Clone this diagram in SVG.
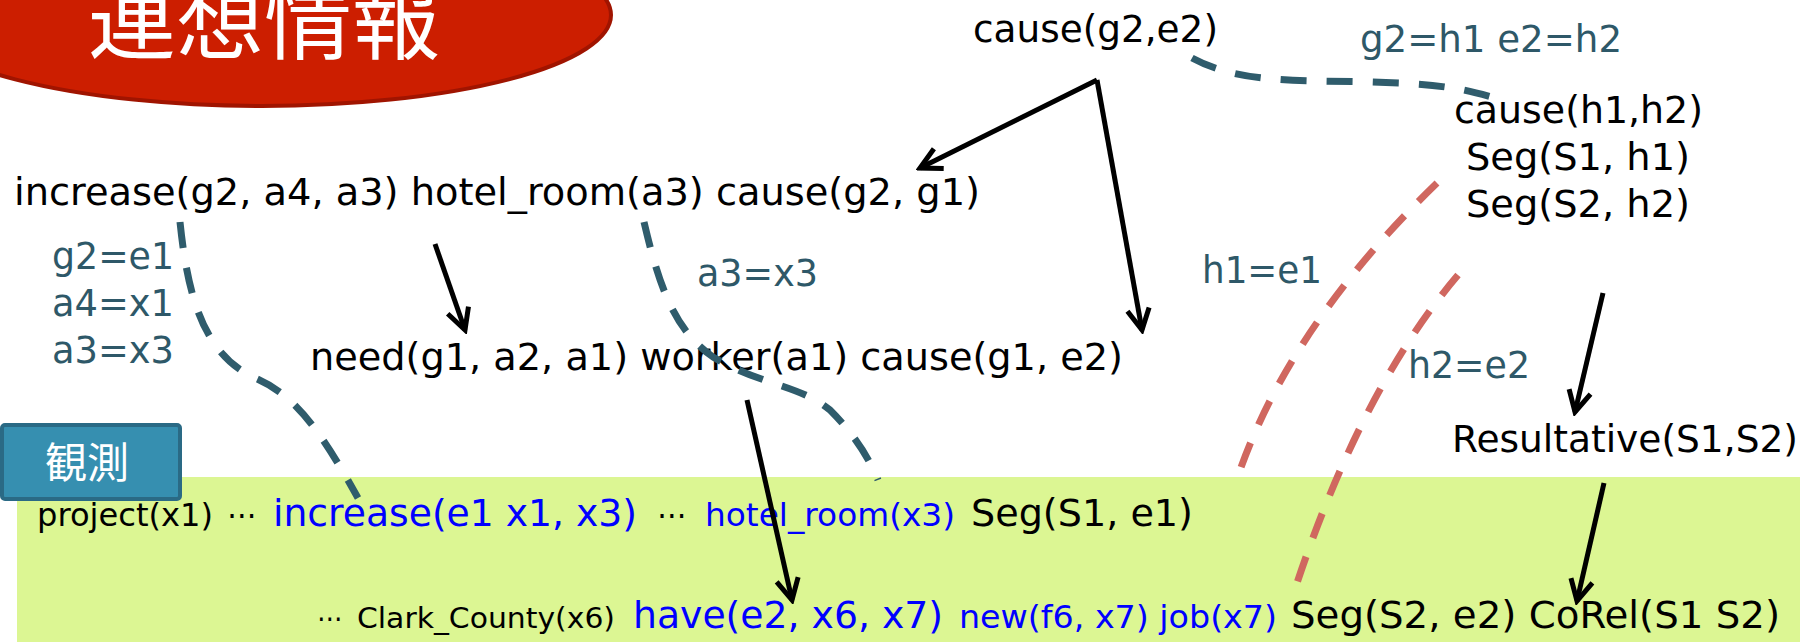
<svg xmlns="http://www.w3.org/2000/svg" width="1812" height="642" viewBox="0 0 1812 642">
<style>
.t{font-family:"DejaVu Sans","Liberation Sans",sans-serif;fill:#000}
.b{font-family:"DejaVu Sans","Liberation Sans",sans-serif;fill:#0000FF}
.l{font-family:"DejaVu Sans","Liberation Sans",sans-serif;fill:#2E5868}
.j{font-family:"Noto Sans CJK JP","Noto Sans CJK SC",sans-serif;fill:#fff}
.arr{stroke:#000;stroke-width:5;fill:none;marker-end:url(#ah)}
.td{stroke:#2F5C6C;stroke-width:7;fill:none;stroke-dasharray:26 20}
.rd{stroke:#D0675F;stroke-width:7;fill:none;stroke-dasharray:26 20}
</style>
<defs>
<marker id="ah" viewBox="-24 -14 28 28" refX="0" refY="0" markerWidth="28" markerHeight="28" markerUnits="userSpaceOnUse" orient="auto">
<path d="M-21,-11 L0,0 L-21,11" stroke="#000" stroke-width="5" fill="none"/>
</marker>
</defs>
<rect width="1812" height="642" fill="#fff"/>
<g id="title">
<ellipse cx="262" cy="15" rx="349" ry="91" fill="#CC1E00" stroke="#A01400" stroke-width="4"/>
<text class="j" x="88" y="52" font-size="88">連想情報</text>
</g>
<g id="observation">
<rect x="17" y="477" width="1783" height="165" fill="#DCF693"/>
<rect x="2" y="425" width="178" height="74" rx="3" fill="#368FB0" stroke="#2A6A85" stroke-width="4"/>
<text class="j" x="45" y="478" font-size="42">観測</text>
</g>
<g id="n-cause-g2e2"><text class="t" x="973" y="42" font-size="37" textLength="245" lengthAdjust="spacingAndGlyphs">cause(g2,e2)</text></g>
<g id="lbl-g2h1"><text class="l" x="1360" y="52" font-size="37" textLength="262" lengthAdjust="spacingAndGlyphs">g2=h1 e2=h2</text></g>
<g id="n-cause-h1h2">
<text class="t" x="1454" y="123" font-size="37" textLength="249" lengthAdjust="spacingAndGlyphs">cause(h1,h2)</text>
<text class="t" x="1466" y="170" font-size="37" textLength="224" lengthAdjust="spacingAndGlyphs">Seg(S1, h1)</text>
<text class="t" x="1466" y="217" font-size="37" textLength="224" lengthAdjust="spacingAndGlyphs">Seg(S2, h2)</text>
</g>
<g id="n-increase"><text class="t" x="14" y="205" font-size="37" textLength="966" lengthAdjust="spacingAndGlyphs">increase(g2, a4, a3) hotel_room(a3) cause(g2, g1)</text></g>
<g id="n-need"><text class="t" x="310" y="370" font-size="37" textLength="813" lengthAdjust="spacingAndGlyphs">need(g1, a2, a1) worker(a1) cause(g1, e2)</text></g>
<g id="lbl-left">
<text class="l" x="52" y="269" font-size="37" textLength="122" lengthAdjust="spacingAndGlyphs">g2=e1</text>
<text class="l" x="52" y="316" font-size="37" textLength="122" lengthAdjust="spacingAndGlyphs">a4=x1</text>
<text class="l" x="52" y="363" font-size="37" textLength="122" lengthAdjust="spacingAndGlyphs">a3=x3</text>
</g>
<g id="lbl-a3x3"><text class="l" x="697" y="286" font-size="37" textLength="121" lengthAdjust="spacingAndGlyphs">a3=x3</text></g>
<g id="lbl-h1e1"><text class="l" x="1202" y="283" font-size="37" textLength="120" lengthAdjust="spacingAndGlyphs">h1=e1</text></g>
<g id="lbl-h2e2"><text class="l" x="1408" y="378" font-size="37" textLength="122" lengthAdjust="spacingAndGlyphs">h2=e2</text></g>
<g id="n-resultative"><text class="t" x="1452" y="452" font-size="37" textLength="346" lengthAdjust="spacingAndGlyphs">Resultative(S1,S2)</text></g>
<g id="obs-line1">
<text class="t" x="37" y="526" font-size="32" textLength="176" lengthAdjust="spacingAndGlyphs">project(x1)</text>
<text class="t" x="227" y="526" font-size="32" textLength="30" lengthAdjust="spacingAndGlyphs">⋯</text>
<text class="b" x="273" y="526" font-size="38" textLength="364" lengthAdjust="spacingAndGlyphs">increase(e1 x1, x3)</text>
<text class="t" x="657" y="526" font-size="32" textLength="30" lengthAdjust="spacingAndGlyphs">⋯</text>
<text class="b" x="705" y="526" font-size="32" textLength="250" lengthAdjust="spacingAndGlyphs">hotel_room(x3)</text>
<text class="t" x="971" y="526" font-size="37" textLength="222" lengthAdjust="spacingAndGlyphs">Seg(S1, e1)</text>
</g>
<g id="obs-line2">
<text class="t" x="317" y="628" font-size="28" textLength="26" lengthAdjust="spacingAndGlyphs">⋯</text>
<text class="t" x="357" y="628" font-size="28" textLength="258" lengthAdjust="spacingAndGlyphs">Clark_County(x6)</text>
<text class="b" x="633" y="628" font-size="38" textLength="310" lengthAdjust="spacingAndGlyphs">have(e2, x6, x7)</text>
<text class="b" x="959" y="628" font-size="32" textLength="318" lengthAdjust="spacingAndGlyphs">new(f6, x7) job(x7)</text>
<text class="t" x="1291" y="628" font-size="37" textLength="489" lengthAdjust="spacingAndGlyphs">Seg(S2, e2) CoRel(S1 S2)</text>
</g>
<g id="connectors">
<line class="arr" x1="1097" y1="80" x2="920" y2="168"/>
<line class="arr" x1="1097" y1="80" x2="1142" y2="330"/>
<line class="arr" x1="435" y1="244" x2="465" y2="330"/>
<line class="arr" x1="747" y1="400" x2="792" y2="600"/>
<line class="arr" x1="1603" y1="293" x2="1575" y2="412"/>
<line class="arr" x1="1604" y1="483" x2="1577" y2="601"/>
<path class="td" d="M1192,58 C1240,84 1300,80 1370,82 S1460,88 1495,98"/>
<path class="td" d="M180,222 C188,300 205,355 255,378 C295,395 320,430 358,498"/>
<path class="td" d="M644,222 C660,290 675,330 713,357 C760,385 800,385 830,410 C855,435 870,460 878,480"/>
<path class="rd" d="M1437,183 Q1285,330 1235,485"/>
<path class="rd" d="M1458,275 Q1360,390 1293,595"/>
</g>
</svg>
